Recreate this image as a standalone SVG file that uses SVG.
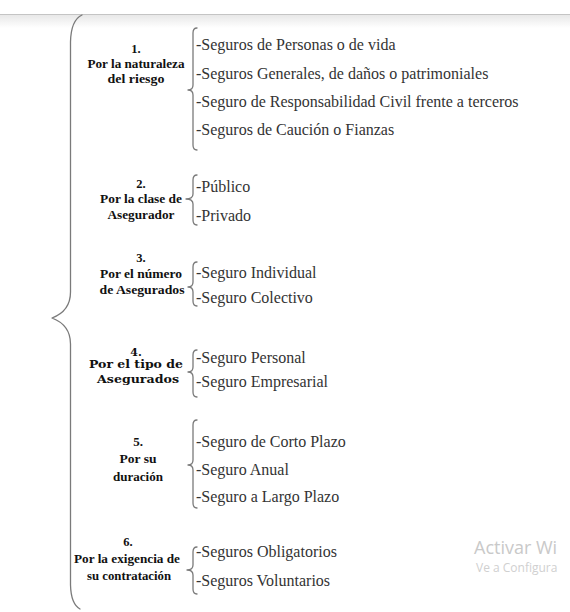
<svg xmlns="http://www.w3.org/2000/svg" width="570" height="612" viewBox="0 0 570 612">
<defs>
<linearGradient id="topfade" x1="0" y1="0" x2="0" y2="1">
<stop offset="0" stop-color="#e6e6e6"/>
<stop offset="1" stop-color="#ffffff"/>
</linearGradient>
</defs>
<style>
.lab{font-family:"Liberation Serif","Times New Roman",serif;font-weight:bold;font-size:12.5px;fill:#111;text-anchor:middle}
.lab4{font-family:"DejaVu Serif","Liberation Serif",serif;font-weight:bold;font-size:11px;fill:#111;text-anchor:middle}
.lab5{font-family:"Liberation Serif","Times New Roman",serif;font-weight:bold;font-size:13px;fill:#111;text-anchor:middle}
.item{font-family:"Liberation Serif","Times New Roman",serif;font-size:16px;fill:#333}
.br{fill:none;stroke:#7a7a7a;stroke-width:1.3;stroke-linecap:round;stroke-linejoin:round}
.wm1{font-family:"Open Sans","Noto Sans",sans-serif;font-size:18px;fill:#c9c9c9}
.wm2{font-family:"Open Sans","Noto Sans",sans-serif;font-size:12px;fill:#d0d0d0}
</style>
<rect x="0" y="0" width="570" height="612" fill="#ffffff"/>
<rect x="0" y="14" width="570" height="14" fill="url(#topfade)"/>
<line x1="0" y1="14.5" x2="570" y2="14.5" stroke="#c4c4c4" stroke-width="1"/>

<g id="connectors">
<path class="br" d="M82,15 Q71,20 70.5,42 L70.5,292 Q70.5,311 52,318 Q70.5,325 70.5,344 L70.5,585 Q71,604 80,609"/>
<path class="br" d="M197,28 Q193,28 193,33 L193,85 Q193,90 188,90 Q193,90 193,95 L193,145 Q193,150 197,150"/>
<path class="br" d="M197,175 Q193,175 193,180 L193,194 Q193,199 186,199 Q193,199 193,204 L193,220 Q193,225 197,225"/>
<path class="br" d="M197,262 Q193,262 193,267 L193,282 Q193,287 188,287 Q193,287 193,292 L193,301 Q193,306 197,306"/>
<path class="br" d="M197,350 Q193,350 193,355 L193,367 Q193,372 188,372 Q193,372 193,377 L193,392 Q193,397 197,397"/>
<path class="br" d="M197,420 Q193,420 193,425 L193,460 Q193,465 188,465 Q193,465 193,470 L193,503 Q193,508 197,508"/>
<path class="br" d="M197,547 Q193,547 193,552 L193,565 Q193,570 187,570 Q193,570 193,575 L193,589 Q193,594 197,594"/>
</g>

<g id="cat1">
<text class="lab" x="136" y="52.5">1.</text>
<text class="lab" x="136" y="67.5" textLength="97" lengthAdjust="spacingAndGlyphs">Por la naturaleza</text>
<text class="lab" x="136" y="82.5" textLength="57" lengthAdjust="spacingAndGlyphs">del riesgo</text>
</g>
<g id="items1">
<text class="item" x="196" y="50">-Seguros de Personas o de vida</text>
<text class="item" x="196" y="78.5">-Seguros Generales, de daños o patrimoniales</text>
<text class="item" x="196" y="107">-Seguro de Responsabilidad Civil frente a terceros</text>
<text class="item" x="196" y="135">-Seguros de Caución o Fianzas</text>
</g>

<g id="cat2">
<text class="lab" x="141" y="187.5">2.</text>
<text class="lab" x="141" y="202.5" textLength="82" lengthAdjust="spacingAndGlyphs">Por la clase de</text>
<text class="lab" x="141" y="218.5" textLength="67" lengthAdjust="spacingAndGlyphs">Asegurador</text>
</g>
<g id="items2">
<text class="item" x="196" y="192">-Público</text>
<text class="item" x="196" y="221">-Privado</text>
</g>

<g id="cat3">
<text class="lab" x="141" y="261.5">3.</text>
<text class="lab" x="141" y="277.5" textLength="82" lengthAdjust="spacingAndGlyphs">Por el número</text>
<text class="lab" x="142" y="293.5" textLength="85" lengthAdjust="spacingAndGlyphs">de Asegurados</text>
</g>
<g id="items3">
<text class="item" x="196" y="277.5">-Seguro Individual</text>
<text class="item" x="196" y="302.5">-Seguro Colectivo</text>
</g>

<g id="cat4">
<text class="lab4" x="136" y="356">4.</text>
<text class="lab4" x="136" y="368" textLength="94" lengthAdjust="spacingAndGlyphs">Por el tipo de</text>
<text class="lab4" x="138" y="383" textLength="82" lengthAdjust="spacingAndGlyphs">Asegurados</text>
</g>
<g id="items4">
<text class="item" x="196" y="363">-Seguro Personal</text>
<text class="item" x="196" y="387">-Seguro Empresarial</text>
</g>

<g id="cat5">
<text class="lab5" x="138" y="445.5">5.</text>
<text class="lab5" x="138" y="462.5" textLength="37" lengthAdjust="spacingAndGlyphs">Por su</text>
<text class="lab5" x="138" y="480.5" textLength="50" lengthAdjust="spacingAndGlyphs">duración</text>
</g>
<g id="items5">
<text class="item" x="196" y="447">-Seguro de Corto Plazo</text>
<text class="item" x="196" y="475">-Seguro Anual</text>
<text class="item" x="196" y="502">-Seguro a Largo Plazo</text>
</g>

<g id="cat6">
<text class="lab" x="128" y="545.5">6.</text>
<text class="lab" x="127" y="562.5" textLength="106" lengthAdjust="spacingAndGlyphs">Por la exigencia de</text>
<text class="lab" x="129" y="579.5" textLength="84" lengthAdjust="spacingAndGlyphs">su contratación</text>
</g>
<g id="items6">
<text class="item" x="196" y="557">-Seguros Obligatorios</text>
<text class="item" x="196" y="586">-Seguros Voluntarios</text>
</g>

<g id="watermark">
<text class="wm1" x="474" y="554">Activar Wi</text>
<text class="wm2" x="476" y="572">Ve a Configura</text>
</g>
</svg>
